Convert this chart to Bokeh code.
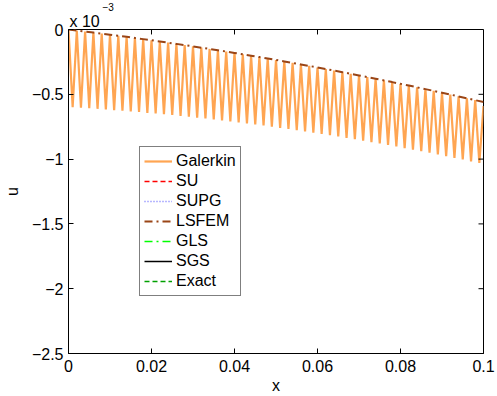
from bokeh.plotting import figure
from bokeh.models import FixedTicker, Legend, LegendItem, Title, Range1d
from bokeh.embed import file_html
from bokeh.resources import INLINE

# ---- data (u in units of 1e-3) ----
x_nodes = [i * 0.001 for i in range(101)]
# Galerkin: even nodes (0, 0.002, ..., 0.1) and odd nodes (0.001, ..., 0.099)
galerkin_even = [0.0, -0.0077, -0.0155, -0.0234, -0.0316, -0.0398, -0.0482, -0.0567, -0.0654, -0.0742,
                 -0.0832, -0.0923, -0.1016, -0.1110, -0.1205, -0.1302, -0.1400, -0.1500, -0.1601, -0.1704,
                 -0.1808, -0.1914, -0.2021, -0.2129, -0.2239, -0.2350, -0.2463, -0.2577, -0.2693, -0.2810,
                 -0.2928, -0.3048, -0.3169, -0.3292, -0.3416, -0.3542, -0.3669, -0.3798, -0.3928, -0.4059,
                 -0.4192, -0.4326, -0.4462, -0.4599, -0.4738, -0.4878, -0.5020, -0.5163, -0.5307, -0.5453,
                 -0.59]
galerkin_odd = [-0.600, -0.604, -0.608, -0.612, -0.617, -0.622, -0.627, -0.632, -0.637, -0.643,
                -0.648, -0.654, -0.660, -0.667, -0.673, -0.680, -0.687, -0.694, -0.702, -0.709,
                -0.717, -0.725, -0.733, -0.741, -0.750, -0.759, -0.768, -0.777, -0.786, -0.796,
                -0.806, -0.816, -0.826, -0.836, -0.847, -0.858, -0.869, -0.880, -0.891, -0.903,
                -0.915, -0.927, -0.939, -0.951, -0.964, -0.977, -0.990, -1.003, -1.017, -1.030]

x_coarse = [i * 0.002 for i in range(51)]
lsfem_u = [0.0, -0.0077, -0.0155, -0.0234, -0.0316, -0.0398, -0.0482, -0.0567, -0.0654, -0.0742,
           -0.0832, -0.0923, -0.1016, -0.1110, -0.1205, -0.1302, -0.1400, -0.1500, -0.1601, -0.1704,
           -0.1808, -0.1914, -0.2021, -0.2129, -0.2239, -0.2350, -0.2463, -0.2577, -0.2693, -0.2810,
           -0.2928, -0.3048, -0.3169, -0.3292, -0.3416, -0.3542, -0.3669, -0.3798, -0.3928, -0.4059,
           -0.4192, -0.4326, -0.4462, -0.4599, -0.4738, -0.4878, -0.5020, -0.5163, -0.5307, -0.5453,
           -0.5600]
# other methods (only their start point is visible)
other_x = [0.0]
su_u = [0.0]
supg_u = [0.0]
gls_u = [0.0]
sgs_u = [0.0]
exact_u = [0.0]

x_ticks = [0, 0.02, 0.04, 0.06, 0.08, 0.1]
x_tick_labels = ["0", "0.02", "0.04", "0.06", "0.08", "0.1"]
y_ticks = [-2.5, -2, -1.5, -1, -0.5, 0]
y_tick_labels = ["\u22122.5", "\u22122", "\u22121.5", "\u22121", "\u22120.5", "0"]
scale_base = "x 10"
scale_exp = "\u22123"

galerkin_u = []
for i in range(101):
    galerkin_u.append(galerkin_even[i // 2] if i % 2 == 0 else galerkin_odd[i // 2])

FONT = "Liberation Sans"
X0, X1, Y0, Y1 = 0, 0.1, -2.5, 0
W, H = 497, 396
BL, BR, BT, BB = 68, 14, 29, 40
FW, FH = W - BL - BR, H - BT - BB
TICK = 5

p = figure(width=W, height=H, output_backend="svg", toolbar_location=None,
           x_range=Range1d(X0, X1), y_range=Range1d(Y0, Y1),
           min_border_left=BL, min_border_right=BR, min_border_top=BT, min_border_bottom=BB,
           background_fill_color="white", border_fill_color="white",
           title=Title(text=scale_exp, align="left", offset=34, standoff=0,
                       text_font=FONT, text_font_size="10px", text_font_style="normal",
                       text_color="black"))
p.xgrid.visible = False
p.ygrid.visible = False
p.outline_line_color = "black"
p.outline_line_width = 1

p.add_layout(Title(text=scale_base, align="left", offset=1, standoff=0,
                   text_font=FONT, text_font_size="16px", text_font_style="normal",
                   text_color="black"), "above")

r_gal = p.line(x_nodes, galerkin_u, line_color="#FFA552", line_width=2.2)
r_su = p.line(other_x, su_u, line_color="#FF0000", line_width=1.5, line_dash="5 3")
r_supg = p.line(other_x, supg_u, line_color="#7070FF", line_width=1.5, line_dash="1 2")
r_ls = p.line(x_coarse, lsfem_u, line_color="#9A4516", line_width=2, line_dash="8 4 2 4")
r_gls = p.line(other_x, gls_u, line_color="#00FF00", line_width=1.5, line_dash="8 4 2 4")
r_sgs = p.line(other_x, sgs_u, line_color="black", line_width=1.5)
r_ex = p.line(other_x, exact_u, line_color="#00A000", line_width=1.5, line_dash="5 3")

# inward tick marks on the top and right edges (MATLAB box style)
dy = TICK * (Y1 - Y0) / FH
dx = TICK * (X1 - X0) / FW
p.segment(x0=x_ticks, y0=[Y1] * len(x_ticks), x1=x_ticks, y1=[Y1 - dy] * len(x_ticks),
          line_color="black", line_width=1)
p.segment(x0=[X1] * len(y_ticks), y0=y_ticks, x1=[X1 - dx] * len(y_ticks), y1=y_ticks,
          line_color="black", line_width=1)

for ax in (p.xaxis[0], p.yaxis[0]):
    ax.axis_line_color = "black"
    ax.major_tick_line_color = "black"
    ax.major_tick_in = TICK
    ax.major_tick_out = 0
    ax.minor_tick_line_color = None
    ax.major_label_text_font = FONT
    ax.major_label_text_font_size = "16px"
    ax.major_label_text_color = "black"
    ax.axis_label_text_font = FONT
    ax.axis_label_text_font_size = "16px"
    ax.axis_label_text_font_style = "normal"
    ax.axis_label_text_color = "black"

xa = p.xaxis[0]
ya = p.yaxis[0]
xa.ticker = FixedTicker(ticks=x_ticks)
ya.ticker = FixedTicker(ticks=y_ticks)
xa.major_label_overrides = dict(zip(x_ticks, x_tick_labels))
ya.major_label_overrides = dict(zip(y_ticks, y_tick_labels))
xa.axis_label = "x"
ya.axis_label = "u"
xa.major_label_standoff = 6
xa.axis_label_standoff = 2
ya.major_label_standoff = 5
ya.axis_label_standoff = 8

legend = Legend(items=[
    LegendItem(label="Galerkin", renderers=[r_gal]),
    LegendItem(label="SU", renderers=[r_su]),
    LegendItem(label="SUPG", renderers=[r_supg]),
    LegendItem(label="LSFEM", renderers=[r_ls]),
    LegendItem(label="GLS", renderers=[r_gls]),
    LegendItem(label="SGS", renderers=[r_sgs]),
    LegendItem(label="Exact", renderers=[r_ex]),
], location=(71, 57))
legend.label_text_font = FONT
legend.label_text_font_size = "16px"
legend.label_text_color = "black"
legend.glyph_width = 28
legend.glyph_height = 20
legend.label_height = 20
legend.label_standoff = 4
legend.spacing = 0
legend.padding = 4
legend.margin = 0
legend.border_line_color = "black"
legend.border_line_width = 1
legend.background_fill_color = "white"
legend.background_fill_alpha = 1
p.add_layout(legend, "center")

open("out.html", "w").write(file_html(p, INLINE))
